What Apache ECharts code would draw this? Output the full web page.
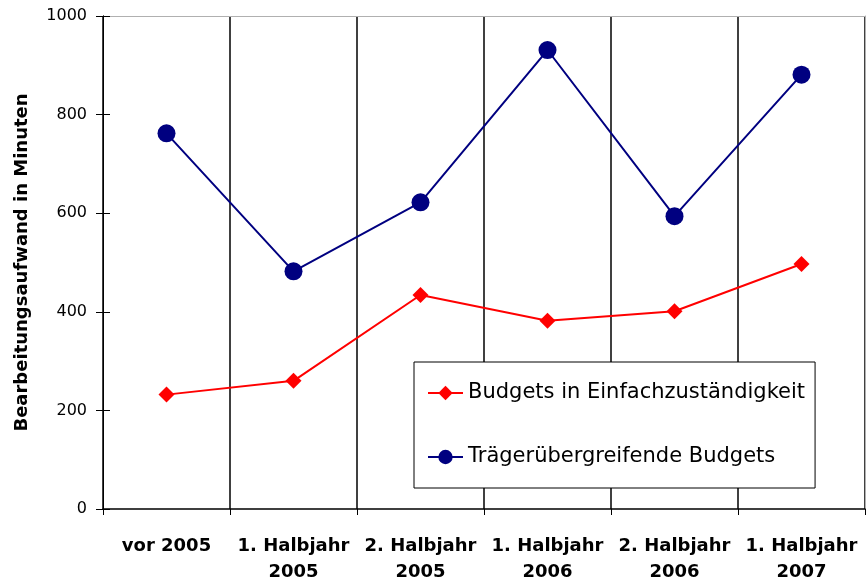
<!DOCTYPE html>
<html><head><meta charset="utf-8">
<script src="https://cdn.jsdelivr.net/npm/echarts@6/dist/echarts.min.js"></script>
<style>html,body{margin:0;padding:0;background:#fff}#c{width:866px;height:582px}</style>
</head><body><div id="c"></div>
<script>
var categories = ['vor 2005', '1. Halbjahr\n2005', '2. Halbjahr\n2005', '1. Halbjahr\n2006', '2. Halbjahr\n2006', '1. Halbjahr\n2007'];
var budgetsEinfach = [232, 260, 434, 382, 401, 497];
var budgetsTraeger = [762, 482, 622, 931, 594, 881];
var yTicks = [0, 200, 400, 600, 800, 1000];
var seriesNames = ['Budgets in Einfachzuständigkeit', 'Trägerübergreifende Budgets'];
var yName = 'Bearbeitungsaufwand in Minuten';

var chart = echarts.init(document.getElementById('c'), null, {renderer: 'canvas'});
var font = 'DejaVu Sans, sans-serif';
chart.setOption({
  animation: false,
  backgroundColor: '#fff',
  grid: {left: 103, right: 1, top: 16, bottom: 73, containLabel: false, outerBoundsMode: 'none'},
  legend: {
    orient: 'vertical', left: 414, top: 362,
    padding: [19, 10, 19, 13],
    itemGap: 40, itemWidth: 35, itemHeight: 18,
    backgroundColor: '#fff', borderColor: '#000', borderWidth: 1,
    textStyle: {fontFamily: font, fontSize: 21, lineHeight: 24, color: '#000'},
    data: seriesNames
  },
  xAxis: [{
    type: 'category', data: categories, boundaryGap: true, position: 'bottom',
    axisLine: {show: true, onZero: false, lineStyle: {color: '#000', width: 1.5}},
    axisTick: {show: true, length: 6, lineStyle: {color: '#000'}},
    splitLine: {show: true, lineStyle: {color: '#000', width: 1.5}},
    axisLabel: {fontFamily: font, fontSize: 18, fontWeight: 'bold', color: '#000', margin: 24, lineHeight: 26, interval: 0}
  }, {
    type: 'category', data: categories, position: 'top',
    axisLine: {show: true, onZero: false, lineStyle: {color: '#b0b0b0', width: 1}},
    axisTick: {show: false}, axisLabel: {show: false}, splitLine: {show: false}
  }],
  yAxis: [{
    type: 'value', min: 0, max: 1000, interval: 200,
    name: yName, nameLocation: 'middle', nameGap: 72, nameRotate: 90,
    nameTextStyle: {fontFamily: font, fontSize: 18, fontWeight: 'bold', color: '#000'},
    axisLine: {show: true, onZero: false, lineStyle: {color: '#000', width: 1}},
    axisTick: {show: true, length: 7, lineStyle: {color: '#000'}},
    axisLabel: {fontFamily: font, fontSize: 16, color: '#000', margin: 16, formatter: function (v) { return String(v); }},
    splitLine: {show: false}
  }, {
    type: 'value', min: 0, max: 1000, interval: 200, position: 'left', offset: 0,
    axisLine: {show: true, onZero: false, lineStyle: {color: '#000', width: 1}},
    axisTick: {show: true, inside: true, length: 7, lineStyle: {color: '#000'}},
    axisLabel: {show: false}, splitLine: {show: false}
  }, {
    type: 'value', min: 0, max: 1000, interval: 200, position: 'right',
    axisLine: {show: true, onZero: false, lineStyle: {color: '#b0b0b0', width: 1}},
    axisTick: {show: false}, axisLabel: {show: false}, splitLine: {show: false}
  }],
  series: [{
    name: seriesNames[0], type: 'line', data: budgetsEinfach,
    symbol: 'diamond', symbolSize: 16,
    lineStyle: {color: '#ff0000', width: 2},
    itemStyle: {color: '#ff0000'}
  }, {
    name: seriesNames[1], type: 'line', data: budgetsTraeger,
    symbol: 'circle', symbolSize: 18,
    lineStyle: {color: '#000080', width: 2},
    itemStyle: {color: '#000080'}
  }]
});
</script></body></html>
